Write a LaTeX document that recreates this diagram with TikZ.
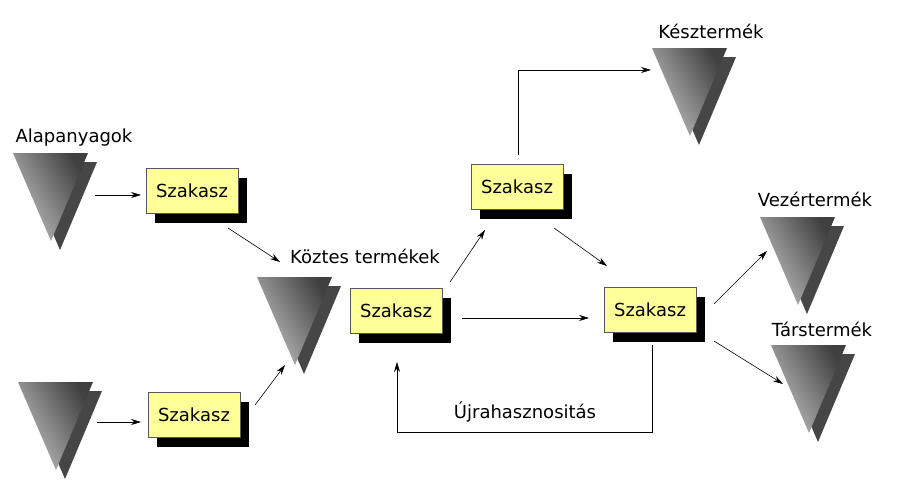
\documentclass[tikz,border=0pt]{standalone}
\usepackage{fontspec}
\setmainfont{DejaVu Sans}
\usetikzlibrary{arrows.meta}
\definecolor{boxyellow}{RGB}{255,255,153}
\definecolor{shgray}{RGB}{70,70,70}
\tikzset{
  lbl/.style={font=\fontsize{18}{21}\selectfont},
  stage/.style={draw=gray!70!black, fill=boxyellow, minimum width=92pt, minimum height=45pt, font=\fontsize{18}{21}\selectfont, inner sep=0pt},
  conn/.style={-{Stealth[length=10pt,width=6pt]}, line width=0.6pt},
  plain/.style={line width=0.6pt}
}
\newcommand{\stagebox}[3]{% name, x, y
  \fill[black] (#2+9,#3+9) ++(-46,-22.5) rectangle ++(92,45);
  \node[stage] (#1) at (#2,#3) {Szakasz};
}
\newcommand{\tri}[3]{% name, left x, top y
  \fill[shgray] (#2+9,#3+9) -- ++(75,0) -- ++(-37,88) -- cycle;
  \shade[left color=black!75, right color=black!25, shading angle=-60] (#2,#3) -- ++(75,0) -- ++(-37,88) -- cycle;
  \coordinate (#1) at (#2+38,#3+40);
}
\begin{document}
\begin{tikzpicture}[x=1pt,y=-1pt]
\useasboundingbox (0,0) rectangle (901,490);
\fill[white] (0,0) rectangle (901,490);
\tri{t1}{13}{153}
\tri{t2}{18}{382}
\tri{tm}{257}{277}
\tri{tk}{652}{48}
\tri{tv}{760}{217}
\tri{tt}{771}{345}
\node[lbl] (l1) at (74,138) {Alapanyagok};
\node[lbl] (lm) at (365,256) {Köztes termékek};
\node[lbl] (lk) at (711,31) {Késztermék};
\node[lbl] (lv) at (815,199) {Vezértermék};
\node[lbl] (lt) at (822,329) {Társtermék};
\node[lbl] (lu) at (525,412) {Újrahasznositás};
\stagebox{b1}{192}{191}
\stagebox{b2}{194}{415}
\stagebox{b3}{396}{311}
\stagebox{b4}{517}{187}
\stagebox{b5}{650}{310}
\coordinate (a1s) at (95,195); \coordinate (a1e) at (141,195);
\coordinate (a2s) at (97,422); \coordinate (a2e) at (141,422);
\coordinate (a3s) at (228,228); \coordinate (a3e) at (280,262);
\coordinate (a4s) at (255,405); \coordinate (a4e) at (285,365);
\coordinate (a5s) at (450,282); \coordinate (a5e) at (485,230);
\coordinate (a6s) at (462,318); \coordinate (a6e) at (589,318);
\coordinate (a7s) at (554,228); \coordinate (a7e) at (607,266);
\coordinate (a8s) at (518,155); \coordinate (a8c) at (518,70); \coordinate (a8e) at (651,70);
\coordinate (a9s) at (714,304); \coordinate (a9e) at (767,251);
\coordinate (a10s) at (714,341); \coordinate (a10e) at (783,384);
\coordinate (fs) at (652,345); \coordinate (f1) at (652,432); \coordinate (f2) at (397,432); \coordinate (fe) at (397,362);
\draw[conn] (a1s) -- (a1e);
\draw[conn] (a2s) -- (a2e);
\draw[conn] (a3s) -- (a3e);
\draw[conn] (a4s) -- (a4e);
\draw[conn] (a5s) -- (a5e);
\draw[conn] (a6s) -- (a6e);
\draw[conn] (a7s) -- (a7e);
\draw[conn] (a8s) -- (a8c) -- (a8e);
\draw[conn] (a9s) -- (a9e);
\draw[conn] (a10s) -- (a10e);
\draw[conn] (fs) -- (f1) -- (f2) -- (fe);
\end{tikzpicture}
\end{document}
